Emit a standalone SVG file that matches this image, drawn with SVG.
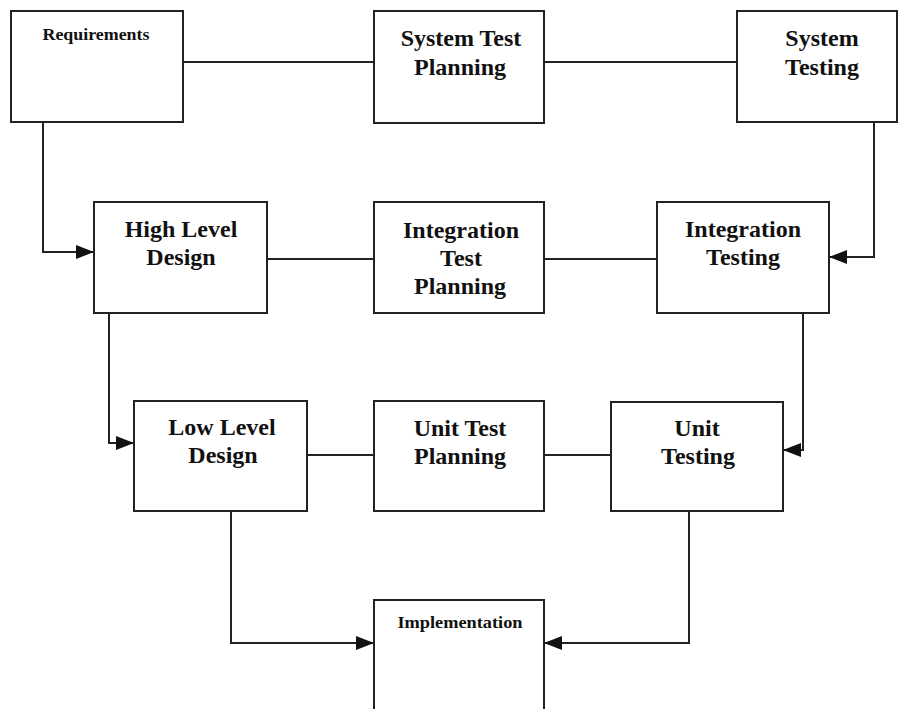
<svg xmlns="http://www.w3.org/2000/svg" width="899" height="709" viewBox="0 0 899 709">
  <style>
    .box { fill: #ffffff; stroke: #222222; stroke-width: 2; }
    .lbl { font-family: "Liberation Serif", "Times New Roman", serif; font-weight: bold; font-size: 24px; fill: #111111; text-anchor: middle; }
    .sm { font-family: "Liberation Serif", "Times New Roman", serif; font-weight: bold; font-size: 17px; fill: #111111; text-anchor: middle; }
    .wire { fill: none; stroke: #222222; stroke-width: 2; }
  </style>
  <defs>
    <marker id="head" viewBox="0 0 18 14" refX="18" refY="7" markerWidth="18" markerHeight="14" markerUnits="userSpaceOnUse" orient="auto">
      <path d="M0,0 L18,7 L0,14 Z" fill="#111111"/>
    </marker>
  </defs>
  <rect width="899" height="709" fill="#ffffff"/>

  <g id="connectors">
    <!-- horizontal links between stages -->
    <line class="wire" x1="183" y1="62" x2="374" y2="62"/>
    <line class="wire" x1="544" y1="62" x2="737" y2="62"/>
    <line class="wire" x1="267" y1="259" x2="374" y2="259"/>
    <line class="wire" x1="544" y1="259" x2="657" y2="259"/>
    <line class="wire" x1="307" y1="455" x2="374" y2="455"/>
    <line class="wire" x1="544" y1="455" x2="611" y2="455"/>
    <!-- descending left branch -->
    <path class="wire" d="M43,122 V252 H94" marker-end="url(#head)"/>
    <path class="wire" d="M109,313 V443 H134" marker-end="url(#head)"/>
    <path class="wire" d="M231,511 V643 H374" marker-end="url(#head)"/>
    <!-- ascending right branch -->
    <path class="wire" d="M874,122 V257 H829" marker-end="url(#head)"/>
    <path class="wire" d="M803,313 V450 H783" marker-end="url(#head)"/>
    <path class="wire" d="M689,511 V643 H544" marker-end="url(#head)"/>
  </g>

  <g id="requirements">
    <rect class="box" x="11" y="11" width="172" height="111"/>
    <text class="sm" x="96" y="40" textLength="107" lengthAdjust="spacingAndGlyphs">Requirements</text>
  </g>
  <g id="system-test-planning">
    <rect class="box" x="374" y="11" width="170" height="112"/>
    <text class="lbl" x="461" y="46">System Test</text>
    <text class="lbl" x="460" y="75">Planning</text>
  </g>
  <g id="system-testing">
    <rect class="box" x="737" y="11" width="160" height="111"/>
    <text class="lbl" x="822" y="46">System</text>
    <text class="lbl" x="822" y="75">Testing</text>
  </g>

  <g id="high-level-design">
    <rect class="box" x="94" y="202" width="173" height="111"/>
    <text class="lbl" x="181" y="237">High Level</text>
    <text class="lbl" x="181" y="265">Design</text>
  </g>
  <g id="integration-test-planning">
    <rect class="box" x="374" y="202" width="170" height="111"/>
    <text class="lbl" x="461" y="238">Integration</text>
    <text class="lbl" x="461" y="266">Test</text>
    <text class="lbl" x="460" y="294">Planning</text>
  </g>
  <g id="integration-testing">
    <rect class="box" x="657" y="202" width="172" height="111"/>
    <text class="lbl" x="743" y="237">Integration</text>
    <text class="lbl" x="743" y="265">Testing</text>
  </g>

  <g id="low-level-design">
    <rect class="box" x="134" y="401" width="173" height="110"/>
    <text class="lbl" x="222" y="435">Low Level</text>
    <text class="lbl" x="223" y="463">Design</text>
  </g>
  <g id="unit-test-planning">
    <rect class="box" x="374" y="401" width="170" height="110"/>
    <text class="lbl" x="460" y="436">Unit Test</text>
    <text class="lbl" x="460" y="464">Planning</text>
  </g>
  <g id="unit-testing">
    <rect class="box" x="611" y="402" width="172" height="109"/>
    <text class="lbl" x="697" y="436">Unit</text>
    <text class="lbl" x="698" y="464">Testing</text>
  </g>

  <g id="implementation">
    <rect class="box" x="374" y="600" width="170" height="120"/>
    <text class="sm" x="460" y="628" textLength="125" lengthAdjust="spacingAndGlyphs">Implementation</text>
  </g>
</svg>
